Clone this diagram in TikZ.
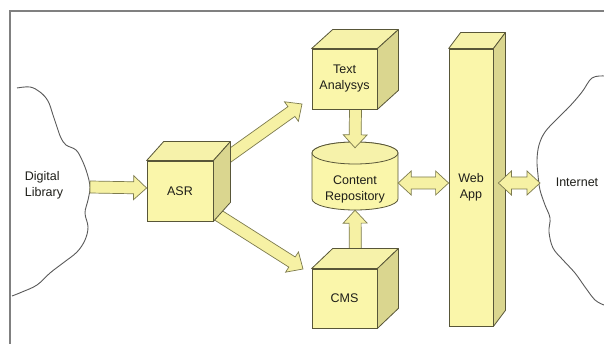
\documentclass[tikz,border=0pt]{standalone}
\usepackage{fontspec}
\setmainfont{Liberation Sans}
\usetikzlibrary{calc}

\definecolor{facefront}{RGB}{250,246,170}
\definecolor{facetop}{RGB}{246,242,170}
\definecolor{faceside}{RGB}{218,214,143}
\definecolor{edge}{RGB}{88,86,56}
\definecolor{arrowfill}{RGB}{246,241,164}
\definecolor{arrowedge}{RGB}{125,123,78}
\definecolor{cloudline}{RGB}{90,90,90}
\definecolor{framegray}{RGB}{128,128,128}
\definecolor{ink}{RGB}{30,30,25}

\pgfdeclarelayer{fg}
\pgfsetlayers{main,fg}

% arrow geometry: half shaft width, half head width, head length
\def\arrW{6pt}
\def\headW{12pt}
\def\headL{13pt}

\tikzset{
  txt/.style={text=ink, align=center, inner sep=0pt, font=\fontsize{12.5}{16}\selectfont},
  front/.style={txt, draw=edge, fill=facefront, line width=0.8pt},
  topface/.style={draw=edge, fill=facetop, line width=0.8pt, line join=round},
  sideface/.style={draw=edge, fill=faceside, line width=0.8pt, line join=round},
  blockarr/.style={draw=arrowedge, fill=arrowfill, line width=0.7pt, line join=miter},
  cloudedge/.style={draw=cloudline, line width=0.9pt},
}

% top and right faces of a box whose front face is node #1, depth (#2,#3)
\newcommand\cubefaces[3]{%
  \filldraw[topface] (#1.north west) -- ([shift={(#2,#3)}]#1.north west)
    -- ([shift={(#2,#3)}]#1.north east) -- (#1.north east) -- cycle;
  \filldraw[sideface] (#1.north east) -- ([shift={(#2,#3)}]#1.north east)
    -- ([shift={(#2,#3)}]#1.south east) -- (#1.south east) -- cycle;}

% single-headed block arrow from #1 to #2
\newcommand\blockarrow[2]{%
  \filldraw[blockarr] let \p1=(#1), \p2=(#2), \n1={atan2(\y2-\y1,\x2-\x1)} in
    ([shift={({\n1+90}:\arrW)}]\p1)
    -- ([shift={({\n1+180}:\headL)},shift={({\n1+90}:\arrW)}]\p2)
    -- ([shift={({\n1+180}:\headL)},shift={({\n1+90}:\headW)}]\p2)
    -- (\p2)
    -- ([shift={({\n1+180}:\headL)},shift={({\n1-90}:\headW)}]\p2)
    -- ([shift={({\n1+180}:\headL)},shift={({\n1-90}:\arrW)}]\p2)
    -- ([shift={({\n1-90}:\arrW)}]\p1) -- cycle;}

% double-headed block arrow between #1 and #2
\newcommand\dblarrow[2]{%
  \filldraw[blockarr] let \p1=(#1), \p2=(#2), \n1={atan2(\y2-\y1,\x2-\x1)} in
    (\p1)
    -- ([shift={(\n1:\headL)},shift={({\n1+90}:\headW)}]\p1)
    -- ([shift={(\n1:\headL)},shift={({\n1+90}:\arrW)}]\p1)
    -- ([shift={({\n1+180}:\headL)},shift={({\n1+90}:\arrW)}]\p2)
    -- ([shift={({\n1+180}:\headL)},shift={({\n1+90}:\headW)}]\p2)
    -- (\p2)
    -- ([shift={({\n1+180}:\headL)},shift={({\n1-90}:\headW)}]\p2)
    -- ([shift={({\n1+180}:\headL)},shift={({\n1-90}:\arrW)}]\p2)
    -- ([shift={(\n1:\headL)},shift={({\n1-90}:\arrW)}]\p1)
    -- ([shift={(\n1:\headL)},shift={({\n1-90}:\headW)}]\p1)
    -- cycle;}

\begin{document}
\begin{tikzpicture}[x=1pt, y=-1pt]
  \useasboundingbox (0,0) rectangle (604,344);
  \fill[white] (0,0) rectangle (604,344);

  % frame
  \draw[framegray, line width=2pt] (10,346) -- (10,11) -- (606,11);

  % clouds
  \draw[cloudedge] plot[smooth, tension=0.6] coordinates {
    (17,88) (30,87) (40,92) (48,101) (53,115) (58,130) (61,138) (66,145)
    (76,150) (82,160) (87,173) (90,187) (88,200) (85,213) (88,227) (85,240)
    (77,252) (63,263) (50,273) (37,285) (22,292) (12,296)};
  \draw[cloudedge] plot[smooth, tension=0.6] coordinates {
    (604,76) (592,78) (582,92) (570,106) (556,120) (545,132) (539,145)
    (537,160) (538,175) (540,190) (545,205) (550,218) (549,232) (553,248)
    (563,260) (575,273) (585,287) (595,300) (604,305)};
  \node[txt, align=left] (dl) at (44,185) {Digital\\Library};
  \node[txt] (net) at (577,182) {Internet};

  % ports on the clouds and beside the boxes
  \coordinate (dl-port) at (90,187);
  \coordinate (net-port) at (540,183);
  \coordinate (ta-port) at (302,104);
  \coordinate (cms-port) at (303,269);

  % content repository (cylinder)
  \node[minimum width=86pt, minimum height=68pt, inner sep=0pt] (repo) at (355,176) {};
  \filldraw[draw=edge, fill=facefront, line width=0.8pt]
    (312,153) -- (312,199) arc[start angle=180, end angle=360, x radius=43pt, y radius=11pt]
    -- (398,153) arc[start angle=0, end angle=180, x radius=43pt, y radius=11pt] -- cycle;
  \filldraw[draw=edge, fill=facetop, line width=0.8pt] (355,153) ellipse[x radius=43pt, y radius=11pt];
  \node[txt] (repo-label) at (355,189) {Content\\Repository};

  % boxes (drawn on the front layer)
  \begin{pgfonlayer}{fg}
    \node[front, minimum width=66pt, minimum height=60pt] (asr) at (180,191) {ASR};
    \cubefaces{asr}{17}{-19}
    \node[front, minimum width=65pt, minimum height=60pt] (ta) at (344.5,79) {Text\\Analysys};
    \cubefaces{ta}{21}{-19}
    \node[front, minimum width=65pt, minimum height=59pt] (cms) at (344.5,298.5) {CMS};
    \cubefaces{cms}{21}{-20}
    \node[front, minimum width=44pt, minimum height=277pt] (web) at (471,187.5) {Web\\App};
    \cubefaces{web}{12}{-16}
  \end{pgfonlayer}

  % data flow
  \blockarrow{dl-port}{[yshift=3pt]asr.west}
  \blockarrow{asr.center}{ta-port}
  \blockarrow{asr.center}{cms-port}
  \blockarrow{[xshift=11pt]ta.south}{[yshift=-6pt]repo.north}
  \blockarrow{[xshift=11pt]cms.north}{repo.south}
  \begin{pgfonlayer}{fg}
    \dblarrow{[yshift=-7pt]repo.east}{[yshift=4.5pt]web.west}
    \dblarrow{[shift={(5,-4.5)}]web.east}{net-port}
  \end{pgfonlayer}
\end{tikzpicture}
\end{document}
